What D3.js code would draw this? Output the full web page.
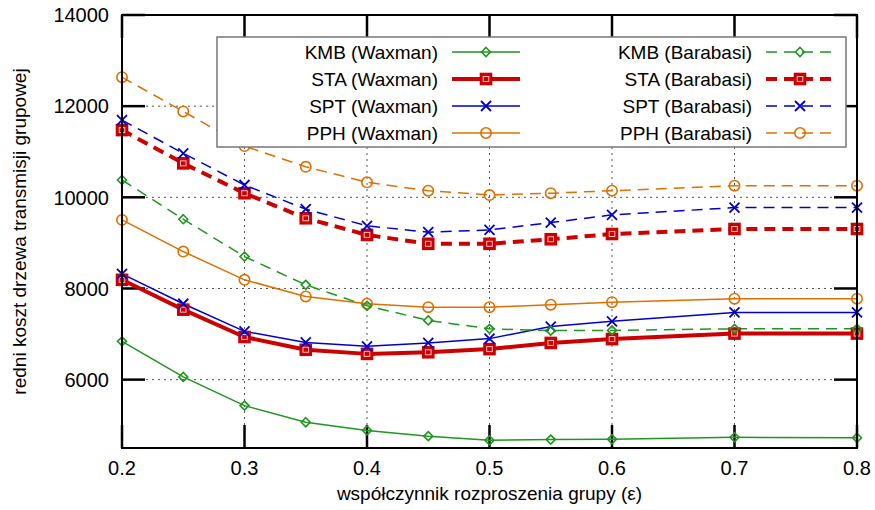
<!DOCTYPE html>
<html>
<head>
<meta charset="utf-8">
<script src="https://cdn.jsdelivr.net/npm/d3@7"></script>
<style>
    body { margin: 0; background: #fff; }
    text { font-family: "Liberation Sans", Arial, Helvetica, sans-serif; font-size: 19px; fill: #000; }
</style>
</head>
<body>
<div class="chart"></div>
<script>
/// Data
var xValues = [0.2, 0.25, 0.3, 0.35, 0.4, 0.45, 0.5, 0.55, 0.6, 0.7, 0.8];

var kmbWaxman = [6840, 6060, 5430, 5065, 4885, 4760, 4670, 4685, 4690, 4735, 4725];
var staWaxman = [8190, 7535, 6935, 6655, 6565, 6600, 6670, 6805, 6890, 7010, 7010];
var sptWaxman = [8320, 7665, 7060, 6815, 6730, 6805, 6900, 7165, 7280, 7475, 7475];
var pphWaxman = [9505, 8810, 8190, 7825, 7665, 7590, 7590, 7645, 7700, 7775, 7775];

var kmbBarabasi = [10380, 9520, 8700, 8080, 7620, 7300, 7115, 7075, 7080, 7115, 7115];
var staBarabasi = [11475, 10745, 10090, 9540, 9175, 8980, 8980, 9080, 9195, 9305, 9305];
var sptBarabasi = [11695, 10965, 10270, 9740, 9375, 9235, 9285, 9445, 9615, 9775, 9775];
var pphBarabasi = [12635, 11885, 11125, 10670, 10330, 10145, 10050, 10090, 10145, 10255, 10255];

var xTicks = [0.2, 0.3, 0.4, 0.5, 0.6, 0.7, 0.8];
var yTicks = [6000, 8000, 10000, 12000, 14000];

/// SVG Wrapper Dimensions
var svgWidth = 875;
var svgHeight = 510;

var margin = {
    top: 15,
    right: 18,
    bottom: 62,
    left: 122
};

var width = svgWidth - margin.left - margin.right;
var height = svgHeight - margin.top - margin.bottom;

var green = "#1f961f";
var red = "#cc0000";
var blue = "#0000cc";
var orange = "#dd7000";

var series = [
    {name: "KMB (Waxman)", values: kmbWaxman, color: green, width: 1.5, dash: null, marker: "diamond"},
    {name: "STA (Waxman)", values: staWaxman, color: red, width: 4, dash: null, marker: "square"},
    {name: "SPT (Waxman)", values: sptWaxman, color: blue, width: 1.5, dash: null, marker: "cross"},
    {name: "PPH (Waxman)", values: pphWaxman, color: orange, width: 1.5, dash: null, marker: "circle"},
    {name: "KMB (Barabasi)", values: kmbBarabasi, color: green, width: 1.5, dash: "11,7", marker: "diamond"},
    {name: "STA (Barabasi)", values: staBarabasi, color: red, width: 4, dash: "11,7", marker: "square"},
    {name: "SPT (Barabasi)", values: sptBarabasi, color: blue, width: 1.5, dash: "11,7", marker: "cross"},
    {name: "PPH (Barabasi)", values: pphBarabasi, color: orange, width: 1.5, dash: "11,7", marker: "circle"}
];

var svg = d3
    .select(".chart")
    .append("svg")
    .attr("width", svgWidth)
    .attr("height", svgHeight);

var chartGroup = svg.append("g")
    .attr("transform", `translate(${margin.left}, ${margin.top})`);

/// Scales
var xLinearScale = d3.scaleLinear().domain([0.2, 0.8]).range([0, width]);
var yLinearScale = d3.scaleLinear().domain([4500, 14000]).range([height, 0]);

/// Grid (dotted)
chartGroup.append("g").selectAll("line")
    .data(xTicks.slice(1, -1))
    .enter()
    .append("line")
    .attr("x1", d => xLinearScale(d))
    .attr("x2", d => xLinearScale(d))
    .attr("y1", 0)
    .attr("y2", height)
    .attr("stroke", "#555")
    .attr("stroke-width", 1)
    .attr("stroke-dasharray", "2,4");

chartGroup.append("g").selectAll("line")
    .data(yTicks.slice(0, -1))
    .enter()
    .append("line")
    .attr("x1", 0)
    .attr("x2", width)
    .attr("y1", d => yLinearScale(d))
    .attr("y2", d => yLinearScale(d))
    .attr("stroke", "#555")
    .attr("stroke-width", 1)
    .attr("stroke-dasharray", "2,4");

/// Inward ticks on all four sides
var tickLen = 23;
var tickGroup = chartGroup.append("g");

function addTick(x1, y1, x2, y2) {
    tickGroup.append("line")
        .attr("x1", x1).attr("y1", y1)
        .attr("x2", x2).attr("y2", y2)
        .attr("stroke", "#000")
        .attr("stroke-width", 2.5);
}

xTicks.forEach(function(t) {
    var x = xLinearScale(t);
    addTick(x, height, x, height - tickLen);
    addTick(x, 0, x, tickLen);
});

yTicks.forEach(function(t) {
    var y = yLinearScale(t);
    addTick(0, y, tickLen, y);
    addTick(width, y, width - tickLen, y);
});

/// Tick labels
chartGroup.append("g").selectAll("text")
    .data(xTicks)
    .enter()
    .append("text")
    .attr("x", d => xLinearScale(d))
    .attr("y", height + 27)
    .attr("text-anchor", "middle")
    .style("font-size", "20px")
    .text(d => d3.format(".1f")(d));

chartGroup.append("g").selectAll("text")
    .data(yTicks)
    .enter()
    .append("text")
    .attr("x", -13)
    .attr("y", d => yLinearScale(d))
    .attr("dy", "0.36em")
    .attr("text-anchor", "end")
    .style("font-size", "20px")
    .text(d => d3.format("d")(d));

/// Legend box (opaque, drawn over grid and ticks)
var legendBox = {x: 217, y: 37, w: 629, h: 110};
var legendRowY = [52, 79, 106, 133];

svg.append("rect")
    .attr("x", legendBox.x)
    .attr("y", legendBox.y)
    .attr("width", legendBox.w)
    .attr("height", legendBox.h)
    .attr("fill", "#fff")
    .attr("stroke", "#777")
    .attr("stroke-width", 1.5);

/// Marker drawing
function drawMarker(g, type, color, cx, cy) {
    if (type === "diamond") {
        var s = 4.5;
        g.append("path")
            .attr("d", `M${cx},${cy - s}L${cx + s},${cy}L${cx},${cy + s}L${cx - s},${cy}Z`)
            .attr("fill", "none")
            .attr("stroke", color)
            .attr("stroke-width", 1.6);
    } else if (type === "square") {
        g.append("rect")
            .attr("x", cx - 6.3).attr("y", cy - 6.3)
            .attr("width", 12.6).attr("height", 12.6)
            .attr("fill", color);
        g.append("rect")
            .attr("x", cx - 2.8).attr("y", cy - 2.5)
            .attr("width", 5.6).attr("height", 5)
            .attr("fill", "none")
            .attr("stroke", "#f3c0c0")
            .attr("stroke-width", 1);
    } else if (type === "cross") {
        var c = 5;
        g.append("path")
            .attr("d", `M${cx - c},${cy - c}L${cx + c},${cy + c}M${cx - c},${cy + c}L${cx + c},${cy - c}`)
            .attr("stroke", color)
            .attr("stroke-width", 1.8);
    } else {
        g.append("circle")
            .attr("cx", cx).attr("cy", cy).attr("r", 5.2)
            .attr("fill", "none")
            .attr("stroke", color)
            .attr("stroke-width", 1.6);
    }
}

/// Legend entries
series.forEach(function(s, i) {
    var col = i < 4 ? 0 : 1;
    var row = i % 4;
    var textRight = col === 0 ? 438 : 752;
    var lineX1 = col === 0 ? 452 : 766;
    var lineX2 = col === 0 ? 520 : 834;
    var y = legendRowY[row];
    var lg = svg.append("g");

    lg.append("text")
        .attr("x", textRight)
        .attr("y", y)
        .attr("dy", "0.35em")
        .attr("text-anchor", "end")
        .text(s.name);

    lg.append("line")
        .attr("x1", lineX1)
        .attr("x2", lineX2)
        .attr("y1", y)
        .attr("y2", y)
        .attr("stroke", s.color)
        .attr("stroke-width", s.width)
        .attr("stroke-dasharray", s.dash);

    drawMarker(lg, s.marker, s.color, (lineX1 + lineX2) / 2, y);
});

/// Data lines and markers
var lineGen = d3.line()
    .x((d, i) => xLinearScale(xValues[i]))
    .y(d => yLinearScale(d));

series.forEach(function(s) {
    chartGroup.append("path")
        .datum(s.values)
        .attr("d", lineGen)
        .attr("fill", "none")
        .attr("stroke", s.color)
        .attr("stroke-width", s.width)
        .attr("stroke-linejoin", "round")
        .attr("stroke-dasharray", s.dash);
});

series.forEach(function(s) {
    var mg = chartGroup.append("g");
    s.values.forEach(function(v, i) {
        drawMarker(mg, s.marker, s.color, xLinearScale(xValues[i]), yLinearScale(v));
    });
});

/// Frame
chartGroup.append("rect")
    .attr("x", 0)
    .attr("y", 0)
    .attr("width", width)
    .attr("height", height)
    .attr("fill", "none")
    .attr("stroke", "#000")
    .attr("stroke-width", 2);

/// Axis labels
svg.append("text")
    .attr("x", margin.left + width / 2)
    .attr("y", 500)
    .attr("text-anchor", "middle")
    .text("współczynnik rozproszenia grupy (ε)");

svg.append("text")
    .attr("transform", `translate(26, ${margin.top + height / 2}) rotate(-90)`)
    .attr("text-anchor", "middle")
    .text("redni koszt drzewa transmisji grupowej");
</script>
</body>
</html>
